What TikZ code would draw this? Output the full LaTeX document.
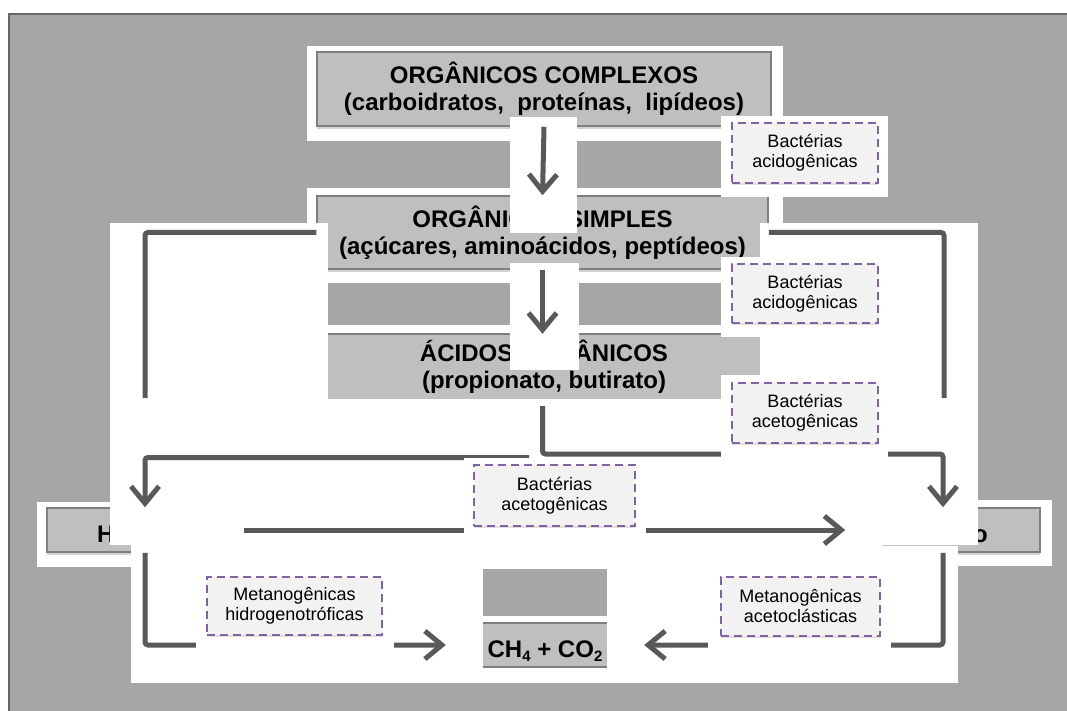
\documentclass[tikz,border=0pt]{standalone}
\usepackage{fontspec}
\setmainfont{Liberation Sans}
\usetikzlibrary{arrows.meta,shadows}

\definecolor{bggray}{HTML}{A6A6A6}
\definecolor{boxgray}{HTML}{BFBFBF}
\definecolor{edgegray}{HTML}{7F7F7F}
\definecolor{linegray}{HTML}{595959}
\definecolor{lblfill}{HTML}{F2F2F2}
\definecolor{lbldash}{HTML}{8064A2}

\newcommand{\lowsub}[1]{\raisebox{-4.5pt}{\fontsize{15}{15}\selectfont #1}}

\begin{document}
\begin{tikzpicture}[x=1pt,y=-1pt,
    stage/.style={fill=boxgray,draw=edgegray,line width=1.5pt,inner sep=0pt,
      drop shadow={shadow xshift=0pt,shadow yshift=-3pt,opacity=0.35},
      font=\fontsize{24}{27}\selectfont\bfseries,align=center},
    flat/.style={fill=boxgray,inner sep=0pt,font=\fontsize{24}{27}\selectfont\bfseries,align=center},
    microbe/.style={fill=lblfill,draw=lbldash,line width=1.5pt,dash pattern=on 8pt off 5pt,
      inner sep=0pt,align=center,font=\fontsize{18}{20}\selectfont,
      drop shadow={shadow xshift=0pt,shadow yshift=-2pt,opacity=0.25}},
    conn/.style={draw=linegray,line width=5pt,rounded corners=3pt},
    arr/.style={conn,-{Straight Barb[length=17pt,width=28pt]}}]
    \useasboundingbox (0,0) rectangle (1067,711);

    % Background
    \fill[bggray] (9,14) rectangle (1067,711);
    \draw[gray!80!black,line width=2pt] (9,711) -- (9,14) -- (1067,14);

    % Organic matter stages
    \fill[white] (307,46) rectangle (783,141);
    \node[stage,minimum width=454pt,minimum height=74pt] (complexos) at (544,89)
        {ORGÂNICOS COMPLEXOS\\(carboidratos,\ \ proteínas,\ \ lipídeos)};
    \fill[white] (307,188) rectangle (783,283);
    \node[stage,minimum width=451pt,minimum height=73pt] (simples) at (542.5,232.5)
        {ORGÂNICOS SIMPLES\\(açúcares, aminoácidos, peptídeos)};

    % Side products
    \fill[white] (37,502) rectangle (250,567);
    \node[stage,minimum width=196pt,minimum height=44pt] (hbox) at (145,530) {};
    \node[font=\fontsize{24}{26}\selectfont\bfseries,anchor=base west,inner sep=0pt] (htext) at (97,542) {H};
    \fill[white] (840,500) rectangle (1052,566);
    \node[stage,minimum width=194pt,minimum height=44pt] (obox) at (943,530) {};
    \node[font=\fontsize{24}{26}\selectfont\bfseries,anchor=base east,inner sep=0pt] (otext) at (988,542) {o};

    % White areas
    \fill[white] (110,223) rectangle (328,545);
    \fill[white] (760,223) rectangle (978,545);
    \fill[white] (110,325) rectangle (978,545);
    \fill[white] (131,545) rectangle (958,683);

    \node[flat,minimum width=432pt,minimum height=65pt] (acidos) at (544,366.5)
        {ÁCIDOS ORGÂNICOS\\(propionato, butirato)};
    \draw[edgegray,line width=1.5pt] (acidos.north west) -- (acidos.north east);

    \fill[bggray] (483,569) rectangle (607,616);
    \node[flat,minimum width=124pt,minimum height=44pt,text height=24pt,text depth=0pt] (ch4) at (545,645)
        {CH\lowsub{4} + CO\lowsub{2}};
    \draw[edgegray,line width=1.5pt] (ch4.north west) -- (ch4.north east);
    \draw[edgegray,line width=1.5pt] (ch4.south west) -- (ch4.south east);
    \draw[gray!50,line width=1pt] (882,545) -- (958,545);

    % Connectors
    \coordinate (lcut) at (145,398);
    \coordinate (rcut) at (944,398);
    \coordinate (drop) at (542.5,406);
    \coordinate (split) at (542.5,454);
    \coordinate (lsplit) at (529,457.5);
    \draw[conn] (simples.west) -| (lcut);
    \draw[conn] (simples.east) -| (rcut);
    \draw[arr] (drop) -- (split) -| (obox.north);
    \draw[arr] (lsplit) -| (hbox.north);
    \draw[arr] (hbox.east) -- (obox.west);
    \draw[arr,shorten >=37pt] (hbox.south) |- (ch4.west);
    \draw[arr,shorten >=37pt] (obox.south) |- (ch4.east);

    % Microorganisms
    \fill[white] (721,116) rectangle (888,197);
    \node[microbe,minimum width=146pt,minimum height=60pt] (acidoA) at (805,153) {Bactérias\\acidogênicas};
    \fill[white] (721,257) rectangle (888,337);
    \node[microbe,minimum width=146pt,minimum height=59pt] (acidoB) at (805,293.5) {Bactérias\\acidogênicas};
    \fill[white] (721,375) rectangle (888,457);
    \node[microbe,minimum width=146pt,minimum height=60pt] (acetoA) at (805,413) {Bactérias\\acetogênicas};
    \fill[white] (464,458) rectangle (646,541);
    \node[microbe,minimum width=161pt,minimum height=61pt] (acetoB) at (554.5,495.5) {Bactérias\\acetogênicas};
    \fill[white] (196,569) rectangle (394,650);
    \node[microbe,minimum width=175pt,minimum height=58pt] (metanoH) at (294.5,606) {Metanogênicas\\hidrogenotróficas};
    \fill[white] (708,569) rectangle (891,650);
    \node[microbe,minimum width=159pt,minimum height=59pt] (metanoA) at (800.5,606.5) {Metanogênicas\\acetoclásticas};

    % Main arrows
    \fill[white] (510,117) rectangle (577,233);
    \draw[arr] (complexos.south) -- (simples.north);
    \fill[white] (510,263) rectangle (579,370);
    \draw[arr] (simples.south) -- (simples.south |- acidos.north);
\end{tikzpicture}
\end{document}
